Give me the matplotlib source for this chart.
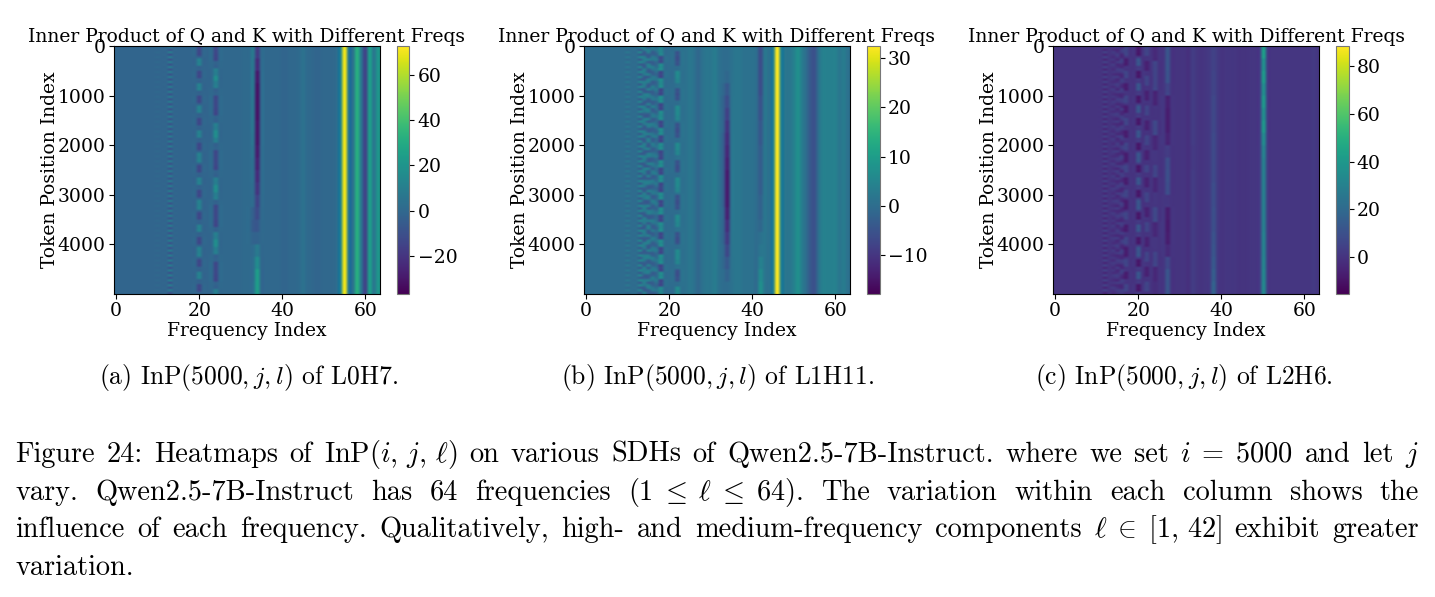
import numpy as np
import matplotlib
matplotlib.use("Agg")
import matplotlib.pyplot as plt

W, H = 1435, 597
NumberOfRows = 100
NumberOfFreqs = 64

TitleText = "Inner Product of Q and K with Different Freqs"
XLabel = "Frequency Index"
YLabel = "Token Position Index"

# column levels across the 64 frequencies
LevelsA = [-1, -1, -1, -1, -1, -1, -1, -1, -1, -1, -1, -1, -1, -1, -1, -1, -1, -1, -1, -1,
           -1, -1, -1, 0, -1, 0, 0, 0, 0, 0, 0, 1, 1, 5, 1, 0, 0, 0, 0, 0,
           -1, -1, 0, 0, 1, 4, 1, 0, -1, -1, 0, 0, 0, 2, 12, 70, 7, 5, 32, 6,
           -14, 24, 7, 20]
LevelsB = [0, 0, 0, 0, 0, 0, 0, 0, 0, 0, 0, 0, 0, 0, 0, 0, 0, 0, 0, 0,
           0, 0, 0, 1, 1, 2, 1, -1, 1, 2, 2, 3, 1, 2, 0, 1, 2, 2, 1, 1,
           1, 0, 0, 2, 1, 4, 32, 4, 2, 2, 4, 7, 3, 0, -4, -5, 1, 4, 4, 4,
           4, 2, 3, 1]
LevelsC = [0, 0, 0, 0, 0, 0, 0, 0, 0, 0, 0, 0, 0, 0, 0, 0, 0, 0, 0, 0,
           0, 0, 0, 0, 0, 0, 1, 0, 0, 0, 0, 0, -1, 3, 1, 0, 1, 2, 12, 2,
           0, 1, 1, 1, 0, 0, 0, 1, 1, 3, 32, 3, 1, 1, 1, 1, 1, 1, 1, 1,
           1, 1, 2, 1]

# row profiles for the columns that change along the token axis
A10 = [0, -2] * 50
A13 = [8, -9] * 50
A20 = [-13, -13, -3, 11, 11, -3] * 10 + [-13, -13, -3]
A24 = [-13, -14, -3, 10, 17, 10, -3, -13] * 4 + [-13, -14, -3, 10]
A33 = [6, 5, 5, 5, 4, 4, 4, 3, 2, 1, 1, 0, 0, -4, -6, -2, 2, 3, 3, 4]
A34 = [-18, -23, -29, -31, -31, -31, -30, -30, -28, -26, -23, -20, -15, -12, -7, -2, 8, 16, 24, 24]

B10 = [2, -1] * 50
B13 = [4, -3] * 50
B14 = [3, 2, -3, -3, 3] * 20
B15 = [-3, 3, 3, -3, -3, 3] * 17
B16 = [3, 1, -3, -2, 2, 2, -3, -2] * 13
B17 = [0, 2, 0, -2, 0, 2, -1, -1] * 13
B18 = [5, -6, 6, -7, 6, -7, 6, -7, 6, -7, 6, -7, 6, -7, 6, -7, 6, -7, 6, -7, 6, -7, 6, -7, 6, -7, 6, -7, 6, -7, 5]
B22 = ([1, -5, -6, -5, 0, 6, 6, 5] * 7)[:55]
B34 = [0, 0, -1, -4, -6, -8, -10, -11, -12, -13, -14, -14, -14, -13, -11, -9, -7, -4, -2, 0]
B33 = [0, 0, 0, -1, -2, -2, -2, -3, -3, -3, -3, -3, -3, -2, -2, -2, -1, -1, 0, 0]
B42 = [-6, -6, -6, -6, -5, -5, -4, -4, -3, -3, -3, -3, -2, -2, -1, 1, 2, 4, 6, 7]

C12 = [4, -4] * 50
C14 = [1, -2, 2, 0, -2] * 20
C15 = [2, -3, -1, 3, 1, -3] * 17
C16 = [-3, 3, 2, -3, -3, 3, 3, -2] * 13
C17 = [6, 6, 0, -7, -7, 0] * 10 + [6, 6, 0]
C20 = [-9, -9, 2, 12, 12, 2] * 10 + [-9, -9, 2]
C22 = [6, 6, 0, -6, -6, 0] * 8 + [6, 6, 0]
C24 = [-3, 6, 6, -5, 0, 7, -4, 1, 6, -4, 1, 7, -4, 1, 6, -4, -2]
C27 = [12, 12, 11, 6, -6, -7, -7, -5, 3, 9, 10, 9, 1, -7, -8, -7, -3, 7, 12, 12]
C33 = [3, 3, 3, 3, 3, 3, 3, 3, 2, 2, 3, 3, 3, 3, 3, 3, 3, 3, 3, 3]
C38 = [5, 5, 6, 6, 7, 7, 7, 8, 8, 8, 8, 9, 9, 10, 10, 11, 12, 13, 15, 17]
C50 = [42, 36, 40, 35, 39, 35, 39, 34, 30, 29, 29, 29, 29, 29, 29, 30, 30, 31, 32, 33]

RowsA = {10: A10, 13: A13, 20: A20, 24: A24, 33: A33, 34: A34}
RowsB = {10: B10, 13: B13, 14: B14, 15: B15, 16: B16, 17: B17, 18: B18, 22: B22, 33: B33, 34: B34, 42: B42}
RowsC = {12: C12, 14: C14, 15: C15, 16: C16, 17: C17, 20: C20, 22: C22, 24: C24, 27: C27, 33: C33, 38: C38, 50: C50}

ColorRanges = [(-37, 73), (-17.8, 32.4), (-15.5, 88.4)]
ColorTicks = [[-20, 0, 20, 40, 60], [-10, 0, 10, 20, 30], [0, 20, 40, 60, 80]]
SubCaptions = [r"(a) InP$(5000,j,l)$ of L0H7.",
               r"(b) InP$(5000,j,l)$ of L1H11.",
               r"(c) InP$(5000,j,l)$ of L2H6."]
CaptionLines = [
    r"Figure 24: Heatmaps of InP$(i,\,j,\,\ell)$ on various SDHs of Qwen2.5-7B-Instruct. where we set $i\;=\;5000$ and let $j$",
    r"vary. Qwen2.5-7B-Instruct has 64 frequencies $(1\;\leq\;\ell\;\leq\;64)$. The variation within each column shows the",
    r"influence of each frequency. Qualitatively, high- and medium-frequency components $\ell\;\in\;[1,\,42]$ exhibit greater",
    r"variation.",
]

plt.rcParams["font.family"] = "DejaVu Serif"
plt.rcParams["mathtext.fontset"] = "cm"


def PixelAxes(Fig, Left, Right, Top, Bottom):
    return Fig.add_axes([Left / W, 1 - Bottom / H, (Right - Left) / W, (Bottom - Top) / H])


def BuildMatrix(Levels, RowProfiles):
    Matrix = np.tile(np.array(Levels, dtype=float), (NumberOfRows, 1))
    Index = np.arange(NumberOfRows)
    for Column, Values in RowProfiles.items():
        Values = np.array(Values, dtype=float)
        Matrix[:, Column] = Values[Index * len(Values) // NumberOfRows]
    return Matrix


def DrawPanel(Fig, Left, Matrix, Range, Ticks):
    Ax = PixelAxes(Fig, Left, Left + 266, 46, 294)
    Image = Ax.imshow(Matrix, aspect="auto", cmap="viridis", vmin=Range[0], vmax=Range[1],
                      interpolation="catrom", extent=(-0.5, 63.5, 4999.5, -0.5))
    Ax.set_xticks([0, 20, 40, 60])
    Ax.set_yticks([0, 1000, 2000, 3000, 4000])
    Ax.tick_params(labelsize=13.5, pad=2.5)
    Ax.set_title(TitleText, fontsize=13.5, pad=3)
    Ax.set_xlabel(XLabel, fontsize=13.5, labelpad=1.5)
    Ax.set_ylabel(YLabel, fontsize=13.5)
    Ax.yaxis.set_label_coords(-0.207, 0.5)

    Bar = PixelAxes(Fig, Left + 283, Left + 295.5, 46, 294)
    Cb = Fig.colorbar(Image, cax=Bar)
    Cb.set_ticks(Ticks)
    Cb.ax.tick_params(labelsize=13.5, pad=2.5)
    Cb.outline.set_edgecolor("#777777")


def DrawJustified(Fig, Renderer, Line, Baseline, Left, Right, Stretch):
    # lay the words out one by one so the line fills the text width
    Words = Line.split(" ")
    Items = [Fig.text(Left / W, 1 - Baseline / H, Word, fontsize=20.4, family="cmr10", va="baseline") for Word in Words]
    Widths = [Item.get_window_extent(Renderer).width for Item in Items]
    Gap = 7.5
    if Stretch:
        Gap = (Right - Left - sum(Widths)) / (len(Words) - 1)
    X = Left
    for Item, Width in zip(Items, Widths):
        Item.set_x(X / W)
        X += Width + Gap


Fig = plt.figure(figsize=(W / 100, H / 100), dpi=100)
Matrices = [BuildMatrix(LevelsA, RowsA), BuildMatrix(LevelsB, RowsB), BuildMatrix(LevelsC, RowsC)]
PanelLeft = [114, 584, 1053]
for Left, Matrix, Range, Ticks in zip(PanelLeft, Matrices, ColorRanges, ColorTicks):
    DrawPanel(Fig, Left, Matrix, Range, Ticks)

for Center, Text in zip([248.5, 718, 1184], SubCaptions):
    Fig.text(Center / W, 1 - 384 / H, Text, fontsize=18.4, family="cmr10", ha="center", va="baseline")

Renderer = Fig.canvas.get_renderer()
for Number, Line in enumerate(CaptionLines):
    DrawJustified(Fig, Renderer, Line, [462, 500, 537, 575][Number], 15, 1419, Number < 3)

Fig.savefig("out.png", dpi=100)
